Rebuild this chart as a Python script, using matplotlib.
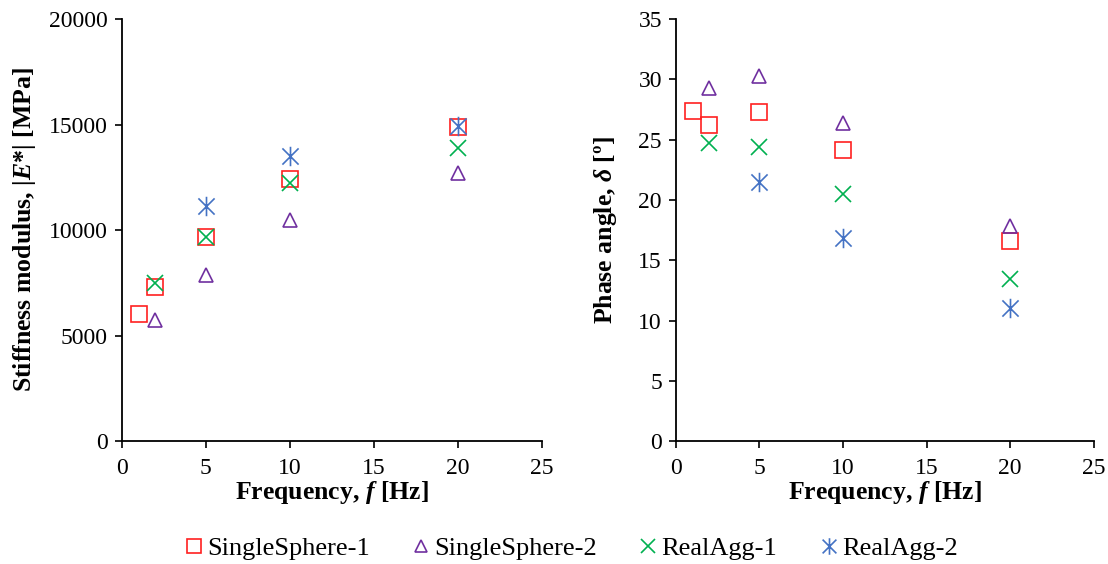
import numpy as np
import matplotlib
matplotlib.use("Agg")
import matplotlib.pyplot as plt
from matplotlib.path import Path

plt.rcParams['font.family'] = ['Liberation Serif', 'DejaVu Serif']
plt.rcParams['mathtext.fontset'] = 'custom'
plt.rcParams['mathtext.it'] = 'Liberation Serif:bold:italic'
plt.rcParams['mathtext.rm'] = 'Liberation Serif:bold'
plt.rcParams['mathtext.bf'] = 'Liberation Serif:bold'

# data
freq_ss1 = [1, 2, 5, 10, 20]
freq_ss2 = [2, 5, 10, 20]
freq_ra1 = [2, 5, 10, 20]
freq_ra2 = [5, 10, 20]

stiff_ss1 = [6030, 7300, 9650, 12430, 14870]
stiff_ss2 = [5730, 7870, 10470, 12690]
stiff_ra1 = [7500, 9680, 12210, 13900]
stiff_ra2 = [11140, 13510, 14930]

phase_ss1 = [27.35, 26.18, 27.31, 24.13, 16.59]
phase_ss2 = [29.25, 30.27, 26.35, 17.83]
phase_ra1 = [24.69, 24.36, 20.46, 13.41]
phase_ra2 = [21.48, 16.81, 11.0]

labels = ['SingleSphere-1', 'SingleSphere-2', 'RealAgg-1', 'RealAgg-2']
colors = ['#FF2020', '#7030A0', '#00B050', '#4472C4']

# asterisk marker: an x with a vertical bar through it
star = Path([(-0.5, -0.5), (0.5, 0.5), (-0.5, 0.5), (0.5, -0.5), (0, -0.6), (0, 0.6)],
            [Path.MOVETO, Path.LINETO, Path.MOVETO, Path.LINETO, Path.MOVETO, Path.LINETO])
markers = ['s', '^', 'x', star]
sizes = [12, 10, 12, 14]

fig = plt.figure(figsize=(11.08, 5.64), dpi=100)
ax1 = fig.add_axes([0.110, 0.218, 0.379, 0.748])
ax2 = fig.add_axes([0.610, 0.218, 0.377, 0.748])

left_sets = [(freq_ss1, stiff_ss1), (freq_ss2, stiff_ss2), (freq_ra1, stiff_ra1), (freq_ra2, stiff_ra2)]
right_sets = [(freq_ss1, phase_ss1), (freq_ss2, phase_ss2), (freq_ra1, phase_ra1), (freq_ra2, phase_ra2)]

handles = []
for i in range(4):
    h, = ax1.plot(left_sets[i][0], left_sets[i][1], linestyle='none', marker=markers[i],
                  markersize=sizes[i], markerfacecolor='none', markeredgecolor=colors[i],
                  markeredgewidth=1.2, label=labels[i])
    ax2.plot(right_sets[i][0], right_sets[i][1], linestyle='none', marker=markers[i],
             markersize=sizes[i], markerfacecolor='none', markeredgecolor=colors[i],
             markeredgewidth=1.2)
    handles.append(h)

for ax in (ax1, ax2):
    ax.spines['top'].set_visible(False)
    ax.spines['right'].set_visible(False)
    ax.spines['left'].set_linewidth(1.3)
    ax.spines['bottom'].set_linewidth(1.3)
    ax.set_xlim(0, 25)
    ax.set_xticks([0, 5, 10, 15, 20, 25])
    ax.tick_params(direction='out', length=5, width=1.2, labelsize=17)
    ax.tick_params(axis='x', pad=7)
    ax.tick_params(axis='y', pad=5)
    ax.set_xlabel(r'Frequency, $f$ [Hz]', fontsize=18.5, fontweight='bold', labelpad=0)

ax1.set_ylim(0, 20000)
ax1.set_yticks([0, 5000, 10000, 15000, 20000])
ax1.set_ylabel(r'Stiffness modulus, |$E$*| [MPa]', fontsize=18.5, fontweight='bold', labelpad=8)

ax2.set_ylim(0, 35)
ax2.set_yticks(np.arange(0, 36, 5))
ax2.set_ylabel(r'Phase angle, $\delta$ [º]', fontsize=18.5, fontweight='bold', labelpad=14)

fig.legend(handles=handles, loc='center', bbox_to_anchor=(0.516, 0.028), ncol=4, frameon=False,
           fontsize=19, handlelength=0.6, handletextpad=0.2, columnspacing=1.65, markerscale=0.85)

fig.savefig('out.png', dpi=100)
